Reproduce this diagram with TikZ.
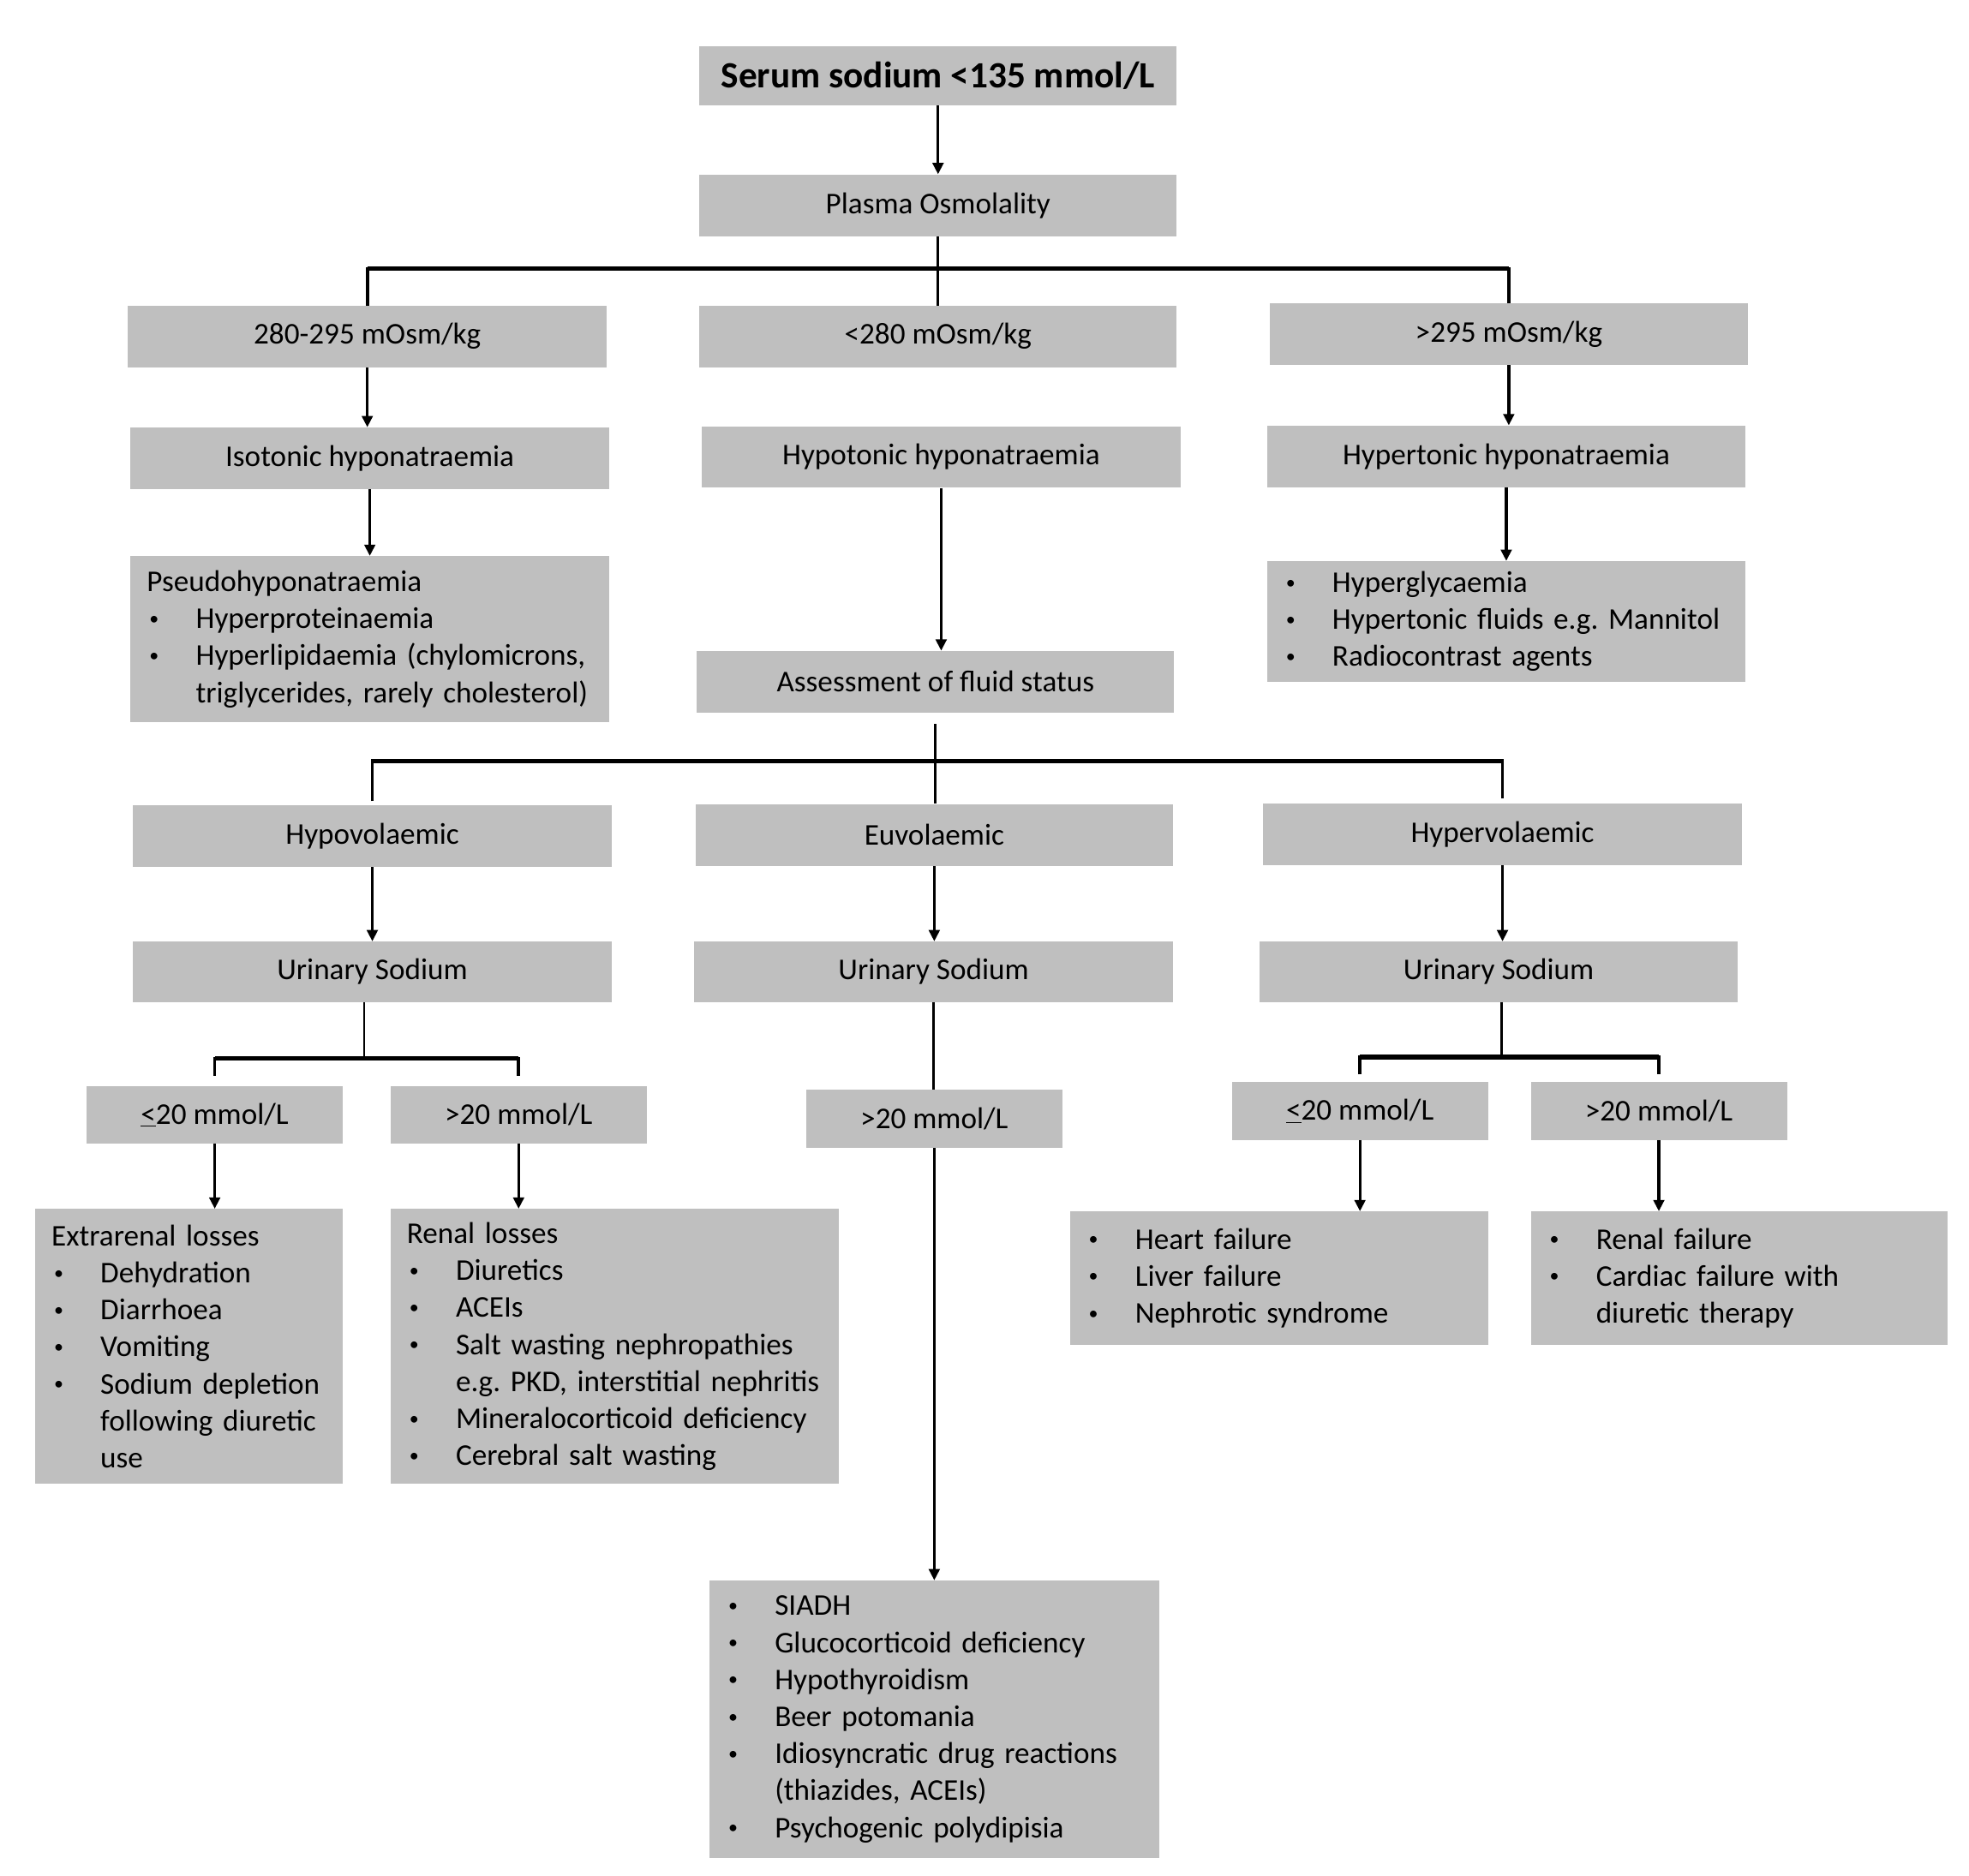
\documentclass[tikz,border=0pt]{standalone}
\usepackage{fontspec}
\setmainfont{Carlito}
\usetikzlibrary{arrows.meta}
\definecolor{boxgray}{HTML}{BFBFBF}
\frenchspacing
\newcommand{\dotmark}{\raisebox{3pt}{\fontsize{15}{15}\selectfont\textbullet}}
\newcommand{\bitem}[1]{\makebox[39pt][l]{\hspace*{2pt}\dotmark}\mbox{#1}}
\newcommand{\bmore}[1]{\hspace*{39pt}\mbox{#1}}

\begin{document}
\begin{tikzpicture}[x=1pt, y=-1pt,
  box/.style={fill=boxgray, inner sep=0pt, minimum height=49pt,
              minimum width=381pt, font=\fontsize{24}{29.5}\selectfont},
  small/.style={box, minimum width=204pt, minimum height=46pt},
  listbox/.style={fill=boxgray, inner xsep=13pt, inner ysep=0pt,
              align=left, font=\fontsize{24}{29.5}\selectfont},
  edge/.style={line width=2.2pt, -{Triangle[length=9pt, width=8.5pt]}},
  link/.style={line width=2pt},
  tick/.style={line width=2.5pt, shorten <=4pt, shorten >=4pt},
  bar/.style={line width=3.5pt},
]
\useasboundingbox (0,0) rectangle (1568,1494);

% first level
\node[box, minimum width=380pt, minimum height=47pt,
      font=\bfseries\fontsize{29.5}{34}\selectfont] (serum) at (747,60.5)
  {Serum sodium <135 mmol/L};
\node[box, minimum width=380pt] (plasma) at (747,163.5) {Plasma Osmolality};
\node[box] (iso)   at (292.5,268) {280-295 mOsm/kg};
\node[box, minimum width=380pt] (hypo) at (747,268) {<280 mOsm/kg};
\node[box] (hyper) at (1201.5,266) {>295 mOsm/kg};
\node[box] (isotonic)   at (294.5,365)   {Isotonic hyponatraemia};
\node[box] (hypotonic)  at (749.5,364)   {Hypotonic hyponatraemia};
\node[box] (hypertonic) at (1199.5,363.5) {Hypertonic hyponatraemia};

\node[listbox, text width=355pt, minimum height=132pt] (pseudo) at (294.5,509)
  {\mbox{Pseudohyponatraemia}\\
   \bitem{Hyperproteinaemia}\\
   \bitem{Hyperlipidaemia (chylomicrons,}\\
   \bmore{triglycerides, rarely cholesterol)}};
\node[listbox, text width=355pt, minimum height=96pt] (hyperlist) at (1199.5,495)
  {\bitem{Hyperglycaemia}\\
   \bitem{Hypertonic fluids e.g. Mannitol}\\
   \bitem{Radiocontrast agents}};
\node[box, minimum width=380pt] (fluid) at (745,543) {Assessment of fluid status};

% fluid status
\node[box] (hypovol)  at (296.5,666)  {Hypovolaemic};
\node[box, minimum width=380pt] (euvol) at (744,665) {Euvolaemic};
\node[box] (hypervol) at (1196.5,664.5) {Hypervolaemic};
\node[box, minimum height=48pt] (nahypo)  at (296.5,774)  {Urinary Sodium};
\node[box, minimum height=48pt] (naeu)    at (743.5,774)  {Urinary Sodium};
\node[box, minimum height=48pt] (nahyper) at (1193.5,774) {Urinary Sodium};

\node[small] (lowhypo)   at (171,888)  {\underline{<}20 mmol/L};
\node[small] (highhypo)  at (413,888)  {>20 mmol/L};
\node[small] (higheu)    at (744,891)  {>20 mmol/L};
\node[small] (lowhyper)  at (1083,885) {\underline{<}20 mmol/L};
\node[small] (highhyper) at (1321,885) {>20 mmol/L};

\node[listbox, text width=219pt, minimum height=219pt] (extrarenal) at (150.5,1072.5)
  {\mbox{Extrarenal losses}\\
   \bitem{Dehydration}\\
   \bitem{Diarrhoea}\\
   \bitem{Vomiting}\\
   \bitem{Sodium depletion}\\
   \bmore{following diuretic}\\
   \bmore{use}};
\node[listbox, text width=331pt, minimum height=219pt] (renal) at (489.5,1072.5)
  {\mbox{Renal losses}\\
   \bitem{Diuretics}\\
   \bitem{ACEIs}\\
   \bitem{Salt wasting nephropathies}\\
   \bmore{e.g. PKD, interstitial nephritis}\\
   \bitem{Mineralocorticoid deficiency}\\
   \bitem{Cerebral salt wasting}};
\node[listbox, text width=307pt, minimum height=106pt] (heart) at (1018.5,1018)
  {\bitem{Heart failure}\\
   \bitem{Liver failure}\\
   \bitem{Nephrotic syndrome}};
\node[listbox, text width=306pt, minimum height=106pt] (renfail) at (1385,1018)
  {\bitem{Renal failure}\\
   \bitem{Cardiac failure with}\\
   \bmore{diuretic therapy}};
\node[listbox, text width=332pt, minimum height=221pt] (siadh) at (744,1369.5)
  {\bitem{SIADH}\\
   \bitem{Glucocorticoid deficiency}\\
   \bitem{Hypothyroidism}\\
   \bitem{Beer potomania}\\
   \bitem{Idiosyncratic drug reactions}\\
   \bmore{(thiazides, ACEIs)}\\
   \bitem{Psychogenic polydipisia}};

% branch points
\coordinate (osmo)    at (747,214);
\coordinate (vol)     at (745,606);
\coordinate (urhypo)  at (290,843);
\coordinate (urhyper) at (1196,842);

\draw[edge] (serum) -- (plasma);
\draw[link] (plasma) -- (hypo);
\draw[tick, shorten <=0pt, shorten >=0pt] (iso.north) |- (osmo) -| (hyper.north);
\draw[bar] (iso.north |- osmo) -- (hyper.north |- osmo);

\draw[edge] (iso) -- (iso |- isotonic.north);
\draw[edge] (hyper) -- (hyper |- hypertonic.north);
\draw[edge] (isotonic) -- (isotonic |- pseudo.north);
\draw[edge] (hypertonic) -- (hypertonic |- hyperlist.north);
\draw[edge] (hypotonic) -- (hypotonic |- fluid.north);

\draw[link, shorten <=9pt] (fluid) -- (fluid |- euvol.north);
\draw[tick, shorten <=3pt] (hypovol.north) |- (vol) -| (hypervol.north);
\draw[bar] (hypovol.north |- vol) -- (hypervol.north |- vol);

\draw[edge] (hypovol) -- (hypovol |- nahypo.north);
\draw[edge] (euvol) -- (euvol |- naeu.north);
\draw[edge] (hypervol) -- (hypervol |- nahyper.north);

\draw[link] (urhypo |- nahypo.south) -- (urhypo);
\draw[tick, shorten <=8pt, shorten >=8pt] (lowhypo.north) |- (urhypo) -| (highhypo.north);
\draw[bar] (lowhypo.north |- urhypo) -- (highhypo.north |- urhypo);
\draw[link] (urhyper |- nahyper.south) -- (urhyper);
\draw[tick, shorten <=6pt, shorten >=6pt] (lowhyper.north) |- (urhyper) -| (highhyper.north);
\draw[bar] (lowhyper.north |- urhyper) -- (highhyper.north |- urhyper);

\draw[link] (naeu) -- (naeu |- higheu.north);
\draw[edge] (higheu) -- (higheu |- siadh.north);

\draw[edge] (lowhypo) -- (lowhypo |- extrarenal.north);
\draw[edge] (highhypo) -- (highhypo |- renal.north);
\draw[edge] (lowhyper) -- (lowhyper |- heart.north);
\draw[edge] (highhyper) -- (highhyper |- renfail.north);
\end{tikzpicture}
\end{document}
